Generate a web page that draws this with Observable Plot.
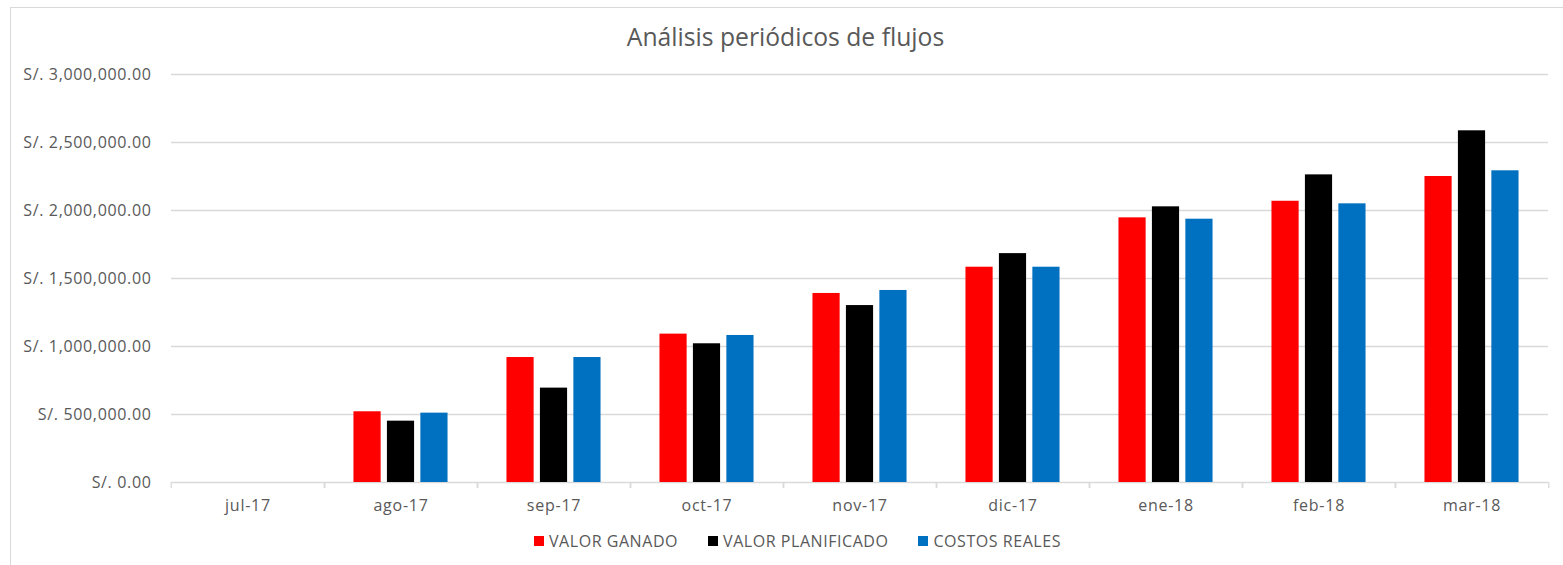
<!DOCTYPE html>
<html><head><meta charset="utf-8">
<script src="https://cdn.jsdelivr.net/npm/d3@7"></script>
<script src="https://cdn.jsdelivr.net/npm/@observablehq/plot@0.6"></script>
<style>
body{margin:0;background:#fff;font-family:"Open Sans",sans-serif;}
#wrap{position:relative;width:1563px;height:565px;overflow:hidden;background:#fff;}
#frame{position:absolute;left:10px;top:7px;width:1600px;height:600px;border-left:1px solid #d9d9d9;border-top:1px solid #d9d9d9;z-index:2;pointer-events:none;}
#title{position:absolute;left:4px;width:1563px;top:19px;line-height:36px;text-align:center;font-size:24.7px;color:#595959;}
#chart{position:absolute;left:0;top:60px;}
#chart g[aria-label="y-axis tick label"] text{letter-spacing:0.65px;}
#chart g[aria-label="fx-axis tick label"] text{letter-spacing:0.75px;}
#legend{position:absolute;left:16px;width:1563px;top:530px;height:22px;display:flex;justify-content:center;align-items:center;font-size:16px;color:#595959;letter-spacing:0.55px;}
.item{display:flex;align-items:center;margin:0 15px;}
.sw{width:10px;height:10px;margin-right:5px;}
</style></head>
<body><div id="wrap"><div id="frame"></div><div id="title">Análisis periódicos de flujos</div><div id="chart"></div><div id="legend"></div></div>
<script>
const months = ["jul-17","ago-17","sep-17","oct-17","nov-17","dic-17","ene-18","feb-18","mar-18"];
const series = ["VALOR GANADO","VALOR PLANIFICADO","COSTOS REALES"];
const colors = ["#FF0000","#000000","#0070C0"];
const valorGanado = [0, 520000, 919000, 1091000, 1390000, 1583000, 1946000, 2068000, 2250000];
const valorPlanificado = [0, 451000, 694000, 1020000, 1301000, 1683000, 2027000, 2262000, 2586000];
const costosReales = [0, 510000, 919000, 1081000, 1412000, 1583000, 1936000, 2049000, 2292000];
const yTicks = [0, 500000, 1000000, 1500000, 2000000, 2500000, 3000000];

const seriesValues = [valorGanado, valorPlanificado, costosReales];
const data = [];
months.forEach((m, i) => series.forEach((s, j) => data.push({month: m, series: s, value: seriesValues[j][i]})));

const W = 1563, ML = 168, MR = 13;
const halfBand = (W - ML - MR) / months.length / 2;
const fmt = d3.format(",.2f");

const chart = Plot.plot({
  width: W, height: 470,
  marginLeft: ML, marginRight: MR, marginTop: 14, marginBottom: 48,
  style: {fontFamily: "'Open Sans', sans-serif", fontSize: "16px", color: "#595959", background: "transparent"},
  fx: {domain: months, padding: 0, axis: null},
  x: {domain: series, paddingInner: 0.1875, paddingOuter: 0.881, round: false, axis: null},
  y: {domain: [0, 3000000], axis: null},
  color: {domain: series, range: colors},
  marks: [
    Plot.gridY(yTicks, {stroke: "#d9d9d9", strokeOpacity: 1, strokeWidth: 1.3}),
    Plot.axisY(yTicks, {tickSize: 0, tickPadding: 20, label: null, tickFormat: d => "S/. " + fmt(d), fill: "#595959", fontSize: 16}),
    Plot.axisFx({anchor: "bottom", tickSize: 0, tickPadding: 17, label: null, fill: "#595959", fontSize: 16}),
    Plot.axisFx({anchor: "bottom", tickSize: 6, tickFormat: () => "", label: null, stroke: "#d9d9d9", strokeWidth: 1.3, dx: -halfBand}),
    Plot.axisFx({anchor: "bottom", tickSize: 6, tickFormat: () => "", label: null, stroke: "#d9d9d9", strokeWidth: 1.3, dx: halfBand}),
    Plot.barY(data, {fx: "month", x: "series", y: "value", fill: "series"})
  ]
});
document.getElementById("chart").appendChild(chart);

const legend = document.getElementById("legend");
series.forEach((s, j) => {
  const it = document.createElement("div"); it.className = "item";
  const sw = document.createElement("div"); sw.className = "sw"; sw.style.background = colors[j];
  const tx = document.createElement("span"); tx.textContent = s;
  it.appendChild(sw); it.appendChild(tx); legend.appendChild(it);
});
</script></body></html>
